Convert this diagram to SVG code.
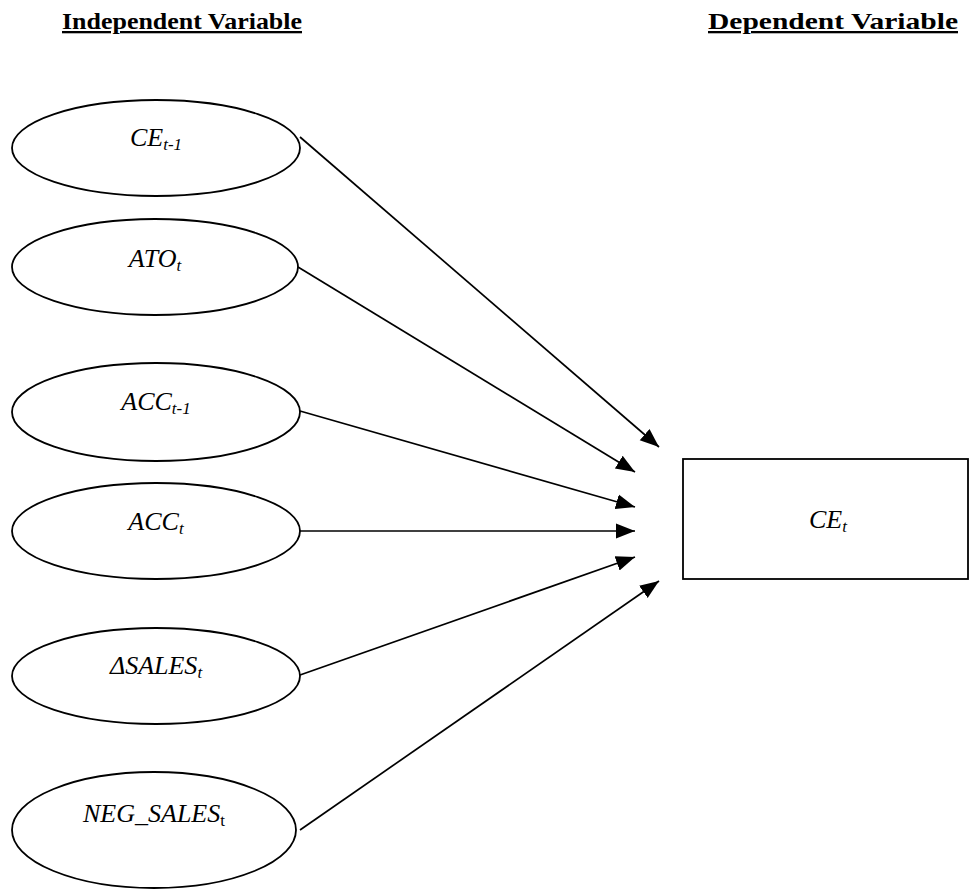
<svg xmlns="http://www.w3.org/2000/svg" width="970" height="890" viewBox="0 0 970 890">
<defs>
<marker id="ah" markerUnits="userSpaceOnUse" markerWidth="22" markerHeight="18" viewBox="0 0 22 18" refX="19" refY="9" orient="auto">
<path d="M0,1.5 L19,9 L0,16.5 Z" fill="#000"/>
</marker>
<style>
.hdr{font-family:"Liberation Serif",serif;font-weight:bold;font-size:23px;text-decoration:underline;fill:#000}
.lbl{font-family:"Liberation Serif",serif;font-style:italic;font-size:26px;fill:#000;text-anchor:middle}
.sub{font-size:17px}
.node{fill:#fff;stroke:#000;stroke-width:1.8}
.conn line{stroke:#000;stroke-width:1.7;marker-end:url(#ah)}
</style>
</defs>
<rect width="970" height="890" fill="#fff"/>
<text class="hdr" x="62" y="29" textLength="240" lengthAdjust="spacingAndGlyphs">Independent Variable</text>
<text class="hdr" x="708" y="29" textLength="250" lengthAdjust="spacingAndGlyphs">Dependent Variable</text>

<g id="n-ce-t1"><ellipse class="node" cx="156" cy="148" rx="144" ry="48"/><text class="lbl" x="156" y="146">CE<tspan class="sub" dy="4">t-1</tspan></text></g>
<g id="n-ato"><ellipse class="node" cx="155" cy="267" rx="143" ry="48"/><text class="lbl" x="155" y="267">ATO<tspan class="sub" dy="4">t</tspan></text></g>
<g id="n-acc-t1"><ellipse class="node" cx="156" cy="412" rx="144" ry="49"/><text class="lbl" x="156" y="410">ACC<tspan class="sub" dy="4">t-1</tspan></text></g>
<g id="n-acc"><ellipse class="node" cx="156" cy="531" rx="144" ry="48"/><text class="lbl" x="156" y="530">ACC<tspan class="sub" dy="4">t</tspan></text></g>
<g id="n-dsales"><ellipse class="node" cx="156" cy="676" rx="144" ry="48"/><text class="lbl" x="156" y="674">ΔSALES<tspan class="sub" dy="4">t</tspan></text></g>
<g id="n-negsales"><ellipse class="node" cx="154" cy="830" rx="142" ry="58"/><text class="lbl" x="154" y="822">NEG_SALES<tspan class="sub" dy="4" font-style="normal">t</tspan></text></g>
<g id="n-ce"><rect class="node" x="683" y="459" width="285" height="120"/><text class="lbl" x="828" y="528">CE<tspan class="sub" dy="4">t</tspan></text></g>

<g id="connectors" class="conn">
<line x1="300" y1="137" x2="659" y2="447"/>
<line x1="298" y1="267" x2="635" y2="472"/>
<line x1="300" y1="411" x2="635" y2="507"/>
<line x1="300" y1="531" x2="635" y2="531"/>
<line x1="300" y1="675" x2="635" y2="557"/>
<line x1="300" y1="830" x2="659" y2="581"/>
</g>
</svg>
